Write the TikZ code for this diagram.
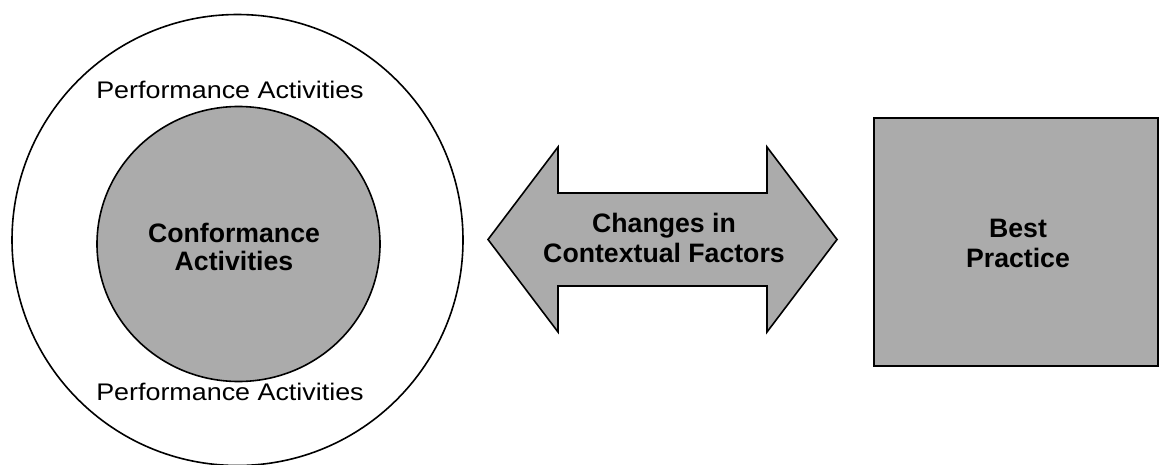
\documentclass[tikz,border=0pt]{standalone}
\usepackage{fontspec}
\setmainfont{Liberation Sans}
\begin{document}
\begin{tikzpicture}[x=0.75pt,y=-0.75pt,
  outline/.style={draw=black,line width=1.2pt},
  stipple/.style={outline,fill=black!33},
  plainlabel/.style={font=\fontsize{18}{21}\selectfont,inner sep=0pt,anchor=base},
  boldlabel/.style={font=\fontsize{20}{22.5}\selectfont\bfseries,align=center,inner sep=0pt}]
  \useasboundingbox (0,0) rectangle (1162,464);

  % nested activity circles
  \draw[outline] (237.5,240) circle[radius=225.5];
  \draw[stipple] (238.5,244) ellipse[x radius=141.5, y radius=137.5];
  \node[plainlabel] (perftop) at (230,98) {\scalebox{1.12}[1]{Performance Activities}};
  \node[plainlabel] (perfbot) at (230,400) {\scalebox{1.12}[1]{Performance Activities}};
  \node[boldlabel,font=\fontsize{20}{20.5}\selectfont\bfseries] (conf) at (234,247) {Conformance\\Activities};

  % double-headed arrow
  \draw[stipple,line join=miter]
    (488,239.5) -- (558,147) -- (558,193) -- (767,193) -- (767,147)
    -- (837,239.5) -- (767,332) -- (767,286) -- (558,286) -- (558,332) -- cycle;
  \node[boldlabel] (ctx) at (664,238) {Changes in\\Contextual Factors};

  % best practice box
  \draw[stipple] (874,118) rectangle (1158,366);
  \node[boldlabel] (best) at (1018,243) {Best\\Practice};
\end{tikzpicture}
\end{document}
